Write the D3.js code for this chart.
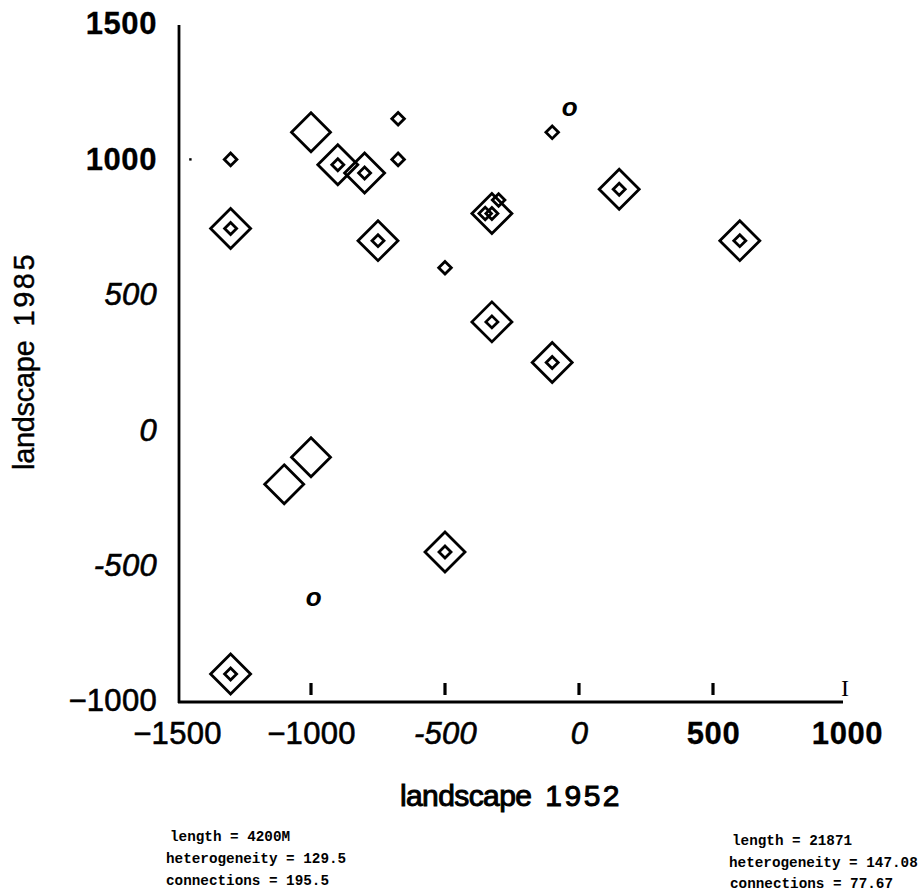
<!DOCTYPE html>
<html>
<head>
<meta charset="utf-8">
<script src="https://cdn.jsdelivr.net/npm/d3@7"></script>
<style>
  html, body { margin: 0; padding: 0; background: #fff; }
  svg { display: block; }
</style>
</head>
<body>
<svg id="chart" width="922" height="892"></svg>
<script>
// ---------------- data ----------------
const xTicks = [-1500, -1000, -500, 0, 500, 1000];
const xTickLabels = ["\u22121500", "\u22121000", "-500", "0", "500", "1000"];
const yTicks = [1500, 1000, 500, 0, -500, -1000];
const yTickLabels = ["1500", "1000", "500", "0", "-500", "\u22121000"];
const xMarkTicks = [-1000, -500, 0, 500];

// point coordinates (landscape 1952, landscape 1985) and marker kind
const pointX = [-1300, -675, -675, -500, -100, -350, -300,
                -1300, -900, -800, -750, 150, 600, -325, -100, -500, -1300, -325,
                -1000, -1000, -1100,
                -35, -990,
                -1450];
const pointY = [1000, 1150, 1000, 600, 1100, 800, 850,
                745, 980, 950, 700, 890, 700, 400, 250, -450, -900, 800,
                1100, -100, -200,
                1185, -625,
                1000];
const pointKind = ["small", "small", "small", "small", "small", "small", "small",
                   "double", "double", "double", "double", "double", "double", "double", "double", "double", "double", "double",
                   "large", "large", "large",
                   "o", "o",
                   "dot"];

const xTitle = ["landscape", "1952"];
const yTitle = ["landscape", "1985"];
const statsLeft = ["length = 4200M", "heterogeneity = 129.5", "connections = 195.5"];
const statsRight = ["length = 21871", "heterogeneity = 147.08", "connections = 77.67"];

// ---------------- styles (not data) ----------------
const xTickStyle = [
  {weight: 400, italic: false}, {weight: 400, italic: false}, {weight: 400, italic: true},
  {weight: 400, italic: true}, {weight: 700, italic: false}, {weight: 700, italic: false}];
const yTickStyle = [
  {weight: 700, italic: false}, {weight: 700, italic: false}, {weight: 400, italic: true},
  {weight: 400, italic: true}, {weight: 400, italic: true}, {weight: 400, italic: false}];

const svg = d3.select("#chart");
const FONT = "'Liberation Sans', Arial, Helvetica, sans-serif";

const x = d3.scaleLinear().domain([-1500, 1000]).range([177, 847]);
const y = d3.scaleLinear().domain([-1000, 1500]).range([701, 24]);

// axis lines
svg.append("line")
  .attr("x1", 179).attr("x2", 179)
  .attr("y1", y(1500) + 1).attr("y2", y(-1000) + 2)
  .attr("stroke", "#000").attr("stroke-width", 2.8);
svg.append("line")
  .attr("x1", 178).attr("x2", x(1000) - 4)
  .attr("y1", 702).attr("y2", 702)
  .attr("stroke", "#000").attr("stroke-width", 2.8);

const styleTicks = (sel, styles) => sel
  .attr("font-family", FONT).attr("font-size", 31).attr("fill", "#000")
  .attr("font-weight", (d, i) => styles[i].weight)
  .attr("font-style", (d, i) => styles[i].italic ? "italic" : "normal")
  .attr("letter-spacing", (d, i) => styles[i].weight === 700 ? 0.6 : 0.3)
  .attr("stroke", "#000").attr("stroke-width", (d, i) => styles[i].weight === 700 ? 0.3 : 0.6);

// x tick labels via axis
const xAxis = d3.axisBottom(x).tickValues(xTicks).tickSize(0).tickPadding(20)
  .tickFormat((d, i) => xTickLabels[i]);
const gx = svg.append("g").attr("transform", "translate(0,702)").call(xAxis);
gx.select(".domain").remove();
styleTicks(gx.selectAll(".tick text"), xTickStyle);

// y tick labels via axis
const yAxis = d3.axisLeft(y).tickValues(yTicks).tickSize(0).tickPadding(22)
  .tickFormat((d, i) => yTickLabels[i]);
const gy = svg.append("g").attr("transform", "translate(179,0)").call(yAxis);
gy.select(".domain").remove();
styleTicks(gy.selectAll(".tick text"), yTickStyle);

// inner tick marks above x-axis
svg.selectAll("line.tm").data(xMarkTicks).join("line").attr("class", "tm")
  .attr("x1", d => x(d)).attr("x2", d => x(d))
  .attr("y1", 683).attr("y2", 695)
  .attr("stroke", "#000").attr("stroke-width", 3.2);
// serif "I" at x = 1000
svg.append("text")
  .attr("x", x(1000) - 2).attr("y", 696)
  .attr("text-anchor", "middle")
  .attr("font-family", "'Liberation Serif', 'DejaVu Serif', serif")
  .attr("font-size", 24).attr("fill", "#000").text("I");

// ---------------- points ----------------
const diamond = r => `M0,${-r}L${r},0L0,${r}L${-r},0Z`;
const pts = pointX.map((v, i) => ({x: v, y: pointY[i], kind: pointKind[i]}));
const gp = svg.append("g");
pts.forEach(p => {
  const cx = x(p.x), cy = y(p.y);
  const g = gp.append("g").attr("transform", `translate(${cx},${cy})`);
  if (p.kind === "double") {
    g.append("path").attr("d", diamond(20)).attr("fill", "none").attr("stroke", "#000").attr("stroke-width", 2.8);
    g.append("path").attr("d", diamond(6)).attr("fill", "none").attr("stroke", "#000").attr("stroke-width", 2.8);
  } else if (p.kind === "large") {
    g.append("path").attr("d", diamond(19.5)).attr("fill", "none").attr("stroke", "#000").attr("stroke-width", 2.8);
  } else if (p.kind === "small") {
    g.append("path").attr("d", diamond(6.3)).attr("fill", "none").attr("stroke", "#000").attr("stroke-width", 2.8);
  } else if (p.kind === "o") {
    g.append("text").attr("text-anchor", "middle").attr("y", 7)
      .attr("font-family", FONT).attr("font-style", "italic").attr("font-weight", 700)
      .attr("font-size", 26).attr("fill", "#000").text("o");
  } else if (p.kind === "dot") {
    g.append("rect").attr("x", -1.2).attr("y", -1.2).attr("width", 2.4).attr("height", 2.4).attr("fill", "#000");
  }
});

// ---------------- titles ----------------
const xt = svg.append("text").attr("x", 511).attr("y", 806).attr("text-anchor", "middle")
  .attr("font-family", FONT).attr("font-size", 30).attr("fill", "#000")
  .attr("stroke", "#000").attr("stroke-width", 1.0);
xt.append("tspan").attr("letter-spacing", -0.6).text(xTitle[0]);
xt.append("tspan").attr("dx", 14).attr("letter-spacing", 2.5).text(xTitle[1]);

const yt = svg.append("text").attr("transform", "translate(34,361) rotate(-90)").attr("text-anchor", "middle")
  .attr("font-family", FONT).attr("font-size", 29).attr("fill", "#000")
  .attr("stroke", "#000").attr("stroke-width", 0.4);
yt.append("tspan").attr("letter-spacing", -0.3).text(yTitle[0]);
yt.append("tspan").attr("dx", 14).attr("letter-spacing", 2.5).text(yTitle[1]);

// ---------------- stats ----------------
const MONO = "'Liberation Mono', 'DejaVu Sans Mono', monospace";
const leftX = [170, 166, 166], leftY = [841, 863, 885];
const rightX = [732, 729, 730], rightY = [845, 867, 888];
svg.selectAll("text.sl").data(statsLeft).join("text").attr("class", "sl")
  .attr("x", (d, i) => leftX[i]).attr("y", (d, i) => leftY[i])
  .attr("font-family", MONO).attr("font-weight", 700).attr("font-size", 14.3).attr("fill", "#000")
  .text(d => d);
svg.selectAll("text.sr").data(statsRight).join("text").attr("class", "sr")
  .attr("x", (d, i) => rightX[i]).attr("y", (d, i) => rightY[i])
  .attr("font-family", MONO).attr("font-weight", 700).attr("font-size", 14.3).attr("fill", "#000")
  .text(d => d);
</script>
</body>
</html>
